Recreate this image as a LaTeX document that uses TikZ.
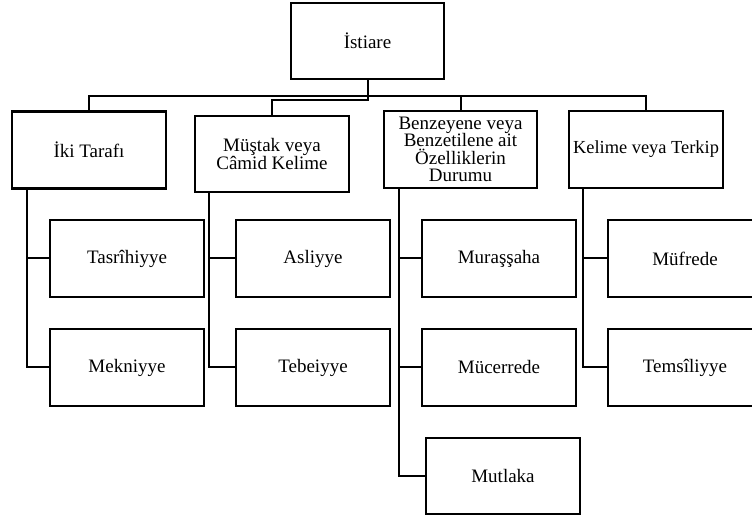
\documentclass[tikz,border=0pt]{standalone}
\usepackage{fontspec}
\setmainfont{Liberation Serif}
\begin{document}
\begin{tikzpicture}[x=1pt,y=-1pt,
  box/.style={draw=black,line width=2.5pt,fill=white,inner sep=0pt,align=center,
    minimum width=154pt,minimum height=77pt,
    font=\fontsize{19}{17.5}\selectfont},
  conn/.style={draw=black,line width=2pt}]
\useasboundingbox (0,0) rectangle (752,518);
\clip (0,0) rectangle (752,518);
\node[box,minimum width=153pt,minimum height=76pt] (ist) at (367.5,41) {İstiare};
\node[box] (b1) at (89,150) {İki Tarafı};
\node[box,minimum height=76pt] (b2) at (272,154) {Müştak veya\\Câmid Kelime};
\node[box,minimum width=153pt] (b3) at (460.5,149.5) {Benzeyene veya\\Benzetilene ait\\Özelliklerin\\Durumu};
\node[box,font=\fontsize{18.4}{18}\selectfont] (b4) at (646,149.5) {Kelime veya Terkip};
\node[box] (c11) at (127,258.5) {Tasrîhiyye};
\node[box] (c12) at (127,367.5) {Mekniyye};
\node[box] (c21) at (313,258.5) {Asliyye};
\node[box] (c22) at (313,367.5) {Tebeiyye};
\node[box] (c31) at (499,258.5) {Muraşşaha};
\node[box] (c32) at (499,367.5) {Mücerrede};
\node[box,minimum height=76pt] (c33) at (503,476) {Mutlaka};
\node[box] (c41) at (685,258.5) {Müfrede};
\node[box] (c42) at (685,367.5) {Temsîliyye};
% top connectors
\draw[conn] (ist.south) -- ++(0,16) -| (b1.north);
\draw[conn] (ist.south) -- ++(0,20) -| (b2.north);
\draw[conn] (ist.south) -- ++(0,16) -| (b3.north);
\draw[conn] (ist.south) -- ++(0,16) -| (b4.north);
% child connectors
\draw[conn] ([xshift=16pt]b1.south west) |- (c11);
\draw[conn] ([xshift=16pt]b1.south west) |- (c12);
\draw[conn] ([xshift=15pt]b2.south west) |- (c21);
\draw[conn] ([xshift=15pt]b2.south west) |- (c22);
\draw[conn] ([xshift=16pt]b3.south west) |- (c31);
\draw[conn] ([xshift=16pt]b3.south west) |- (c32);
\draw[conn] ([xshift=16pt]b3.south west) |- (c33);
\draw[conn] ([xshift=15pt]b4.south west) |- (c41);
\draw[conn] ([xshift=15pt]b4.south west) |- (c42);
\end{tikzpicture}
\end{document}
